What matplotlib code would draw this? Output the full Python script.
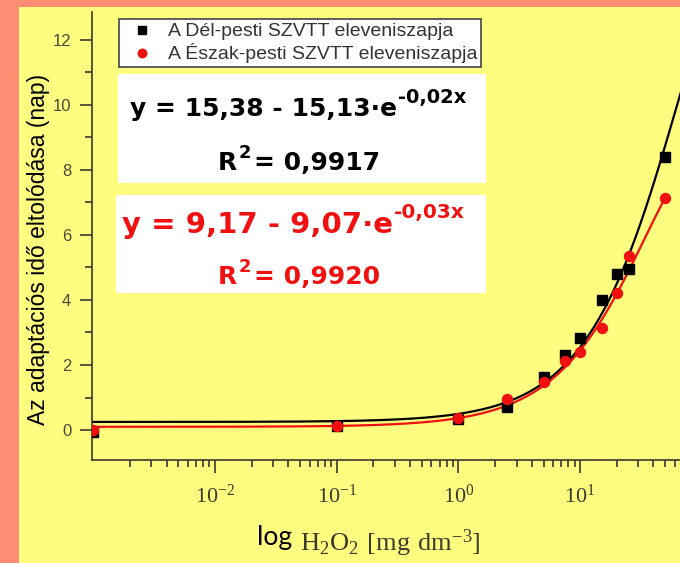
import numpy as np
import matplotlib
matplotlib.use("Agg")
import matplotlib.pyplot as plt
from matplotlib.patches import Rectangle
from matplotlib.ticker import FixedLocator, LogLocator, MultipleLocator, FuncFormatter, NullFormatter

# szinek
salmon = "#FF8C73"
sarga = "#FFFD80"
piros = "#F01010"
tengely = "#3a3a2c"

# adatok (leolvasva)
x_del = [0.001, 0.1, 1, 2.5, 5, 7.5, 10, 15, 20, 25, 50]
y_del = [-0.05, 0.13, 0.35, 0.72, 1.64, 2.31, 2.82, 4.0, 4.8, 4.94, 8.4]
x_eszak = [0.001, 0.1, 1, 2.5, 5, 7.5, 10, 15, 20, 25, 50]
y_eszak = [0.0, 0.12, 0.36, 0.97, 1.49, 2.13, 2.41, 3.13, 4.2, 5.35, 7.13]

# illesztett parameterek y = a - b*exp(-k*x)
fit_del = [15.38, 15.13, 0.0165]
fit_eszak = [9.17, 9.07, 0.03]

cimkek = ["A Dél-pesti SZVTT eleveniszapja", "A Észak-pesti SZVTT eleveniszapja"]

W, H = 680, 563
fig = plt.figure(figsize=(W / 100, H / 100), dpi=100)
fig.patch.set_facecolor(salmon)
fig.add_artist(Rectangle((19 / W, 0), 1, (H - 7) / H, transform=fig.transFigure,
                         facecolor=sarga, edgecolor="none", zorder=0))

ax = fig.add_axes([92 / W, 1 - 460 / H, (W - 92) / W, (460 - 12) / H])
ax.set_facecolor("none")

xx = np.logspace(-3, 2, 400)
ax.plot(xx, fit_del[0] - fit_del[1] * np.exp(-fit_del[2] * xx), color="black", lw=1.6, zorder=2)
xr = np.logspace(-3, np.log10(max(x_eszak)), 400)
ax.plot(xr, fit_eszak[0] - fit_eszak[1] * np.exp(-fit_eszak[2] * xr), color=piros, lw=1.6, zorder=3)

l1, = ax.plot(x_del, y_del, ls="none", marker="s", ms=7.2, color="black", zorder=4)
l2, = ax.plot(x_eszak, y_eszak, ls="none", marker="o", ms=7.2, color=piros, zorder=5)

ax.set_xscale("log")
ax.set_xlim(10 ** -3.01, 10 ** 1.82)
ax.set_ylim(-0.92, 12.85)

ax.xaxis.set_major_locator(FixedLocator([1e-2, 1e-1, 1, 10]))
ax.xaxis.set_minor_locator(LogLocator(base=10, subs=np.arange(2, 10), numticks=100))
ax.xaxis.set_minor_formatter(NullFormatter())
ax.xaxis.set_major_formatter(FuncFormatter(lambda v, p: r"$\mathregular{10^{%d}}$" % round(np.log10(v))))
ax.yaxis.set_major_locator(MultipleLocator(2))
ax.yaxis.set_minor_locator(MultipleLocator(1))

for s in ["top", "right"]:
    ax.spines[s].set_visible(False)
for s in ["left", "bottom"]:
    ax.spines[s].set_color(tengely)
    ax.spines[s].set_linewidth(1.2)

ax.tick_params(which="major", direction="out", length=9, width=1.2, color=tengely)
ax.tick_params(which="minor", direction="out", length=5, width=1.2, color=tengely)
ax.tick_params(axis="y", labelsize=12, labelcolor="#4a4a3a", pad=6)
ax.tick_params(axis="x", labelsize=16, labelcolor=tengely, pad=9)
for t in ax.get_yticklabels():
    t.set_fontfamily("Liberation Sans")
for t in ax.get_xticklabels():
    t.set_fontfamily("Liberation Serif")

ax.set_ylabel("Az adaptációs idő eltolódása (nap)", fontsize=16.5, family="Liberation Sans",
              color="black")
ax.yaxis.set_label_coords(-(92 - 50) / (W - 92), (460 - 249) / (460 - 12))

# x tengely felirat
fig.text(257 / W, 1 - 545 / H, "log", fontsize=19, family="Lato", color="black",
         ha="left", va="baseline")
fig.text(300 / W, 1 - 551 / H, r"$\mathregular{H_2O_2\ [mg\ dm^{-3}]}$", fontsize=19,
         family="Liberation Serif", color=tengely, ha="left", va="baseline")

# jelmagyarazat
leg = ax.legend([l1, l2], cimkek, loc="upper left", bbox_to_anchor=(119 / W, 1 - 19 / H),
                bbox_transform=fig.transFigure, prop={"family": "Liberation Sans", "size": 14},
                frameon=True, fancybox=False, edgecolor="#444444", framealpha=1,
                borderpad=0.2, handlelength=2.0, handletextpad=0.3, labelspacing=0.15,
                borderaxespad=0, markerscale=0.85)
leg.get_frame().set_linewidth(1.2)
for t in leg.get_texts():
    t.set_color("#333333")

# egyenletek dobozai
fig.add_artist(Rectangle((118 / W, 1 - 183 / H), (486 - 118) / W, (183 - 74) / H,
                         transform=fig.transFigure, facecolor="white", edgecolor="none", zorder=6))
fig.add_artist(Rectangle((116 / W, 1 - 293 / H), (486 - 116) / W, (293 - 195) / H,
                         transform=fig.transFigure, facecolor="white", edgecolor="none", zorder=6))

renderer = fig.canvas.get_renderer()


def egyenlet(x0, y0, reszek, szin):
    # reszek: (szoveg, meret, emeles px, extra hely px)
    x = x0
    for szoveg, meret, emel, hely in reszek:
        t = fig.text(x / W, 1 - (y0 - emel) / H, szoveg, fontsize=meret, family="DejaVu Sans",
                     weight="bold", color=szin, ha="left", va="baseline", zorder=7)
        x += t.get_window_extent(renderer).width + hely


egyenlet(130, 116, [("y = 15,38 - 15,13·e", 18, 0, 1), ("-0,02x", 14, 13, 0)], "black")
egyenlet(218, 170, [("R", 18, 0, 1), ("2", 13, 12, 3), ("= 0,9917", 18, 0, 0)], "black")
egyenlet(122, 233, [("y = 9,17 - 9,07·e", 21, 0, 1), ("-0,03x", 14.5, 15, 0)], piros)
egyenlet(218, 284, [("R", 18, 0, 1), ("2", 13, 12, 3), ("= 0,9920", 18, 0, 0)], piros)

fig.savefig("out.png", dpi=100, facecolor=fig.get_facecolor())
